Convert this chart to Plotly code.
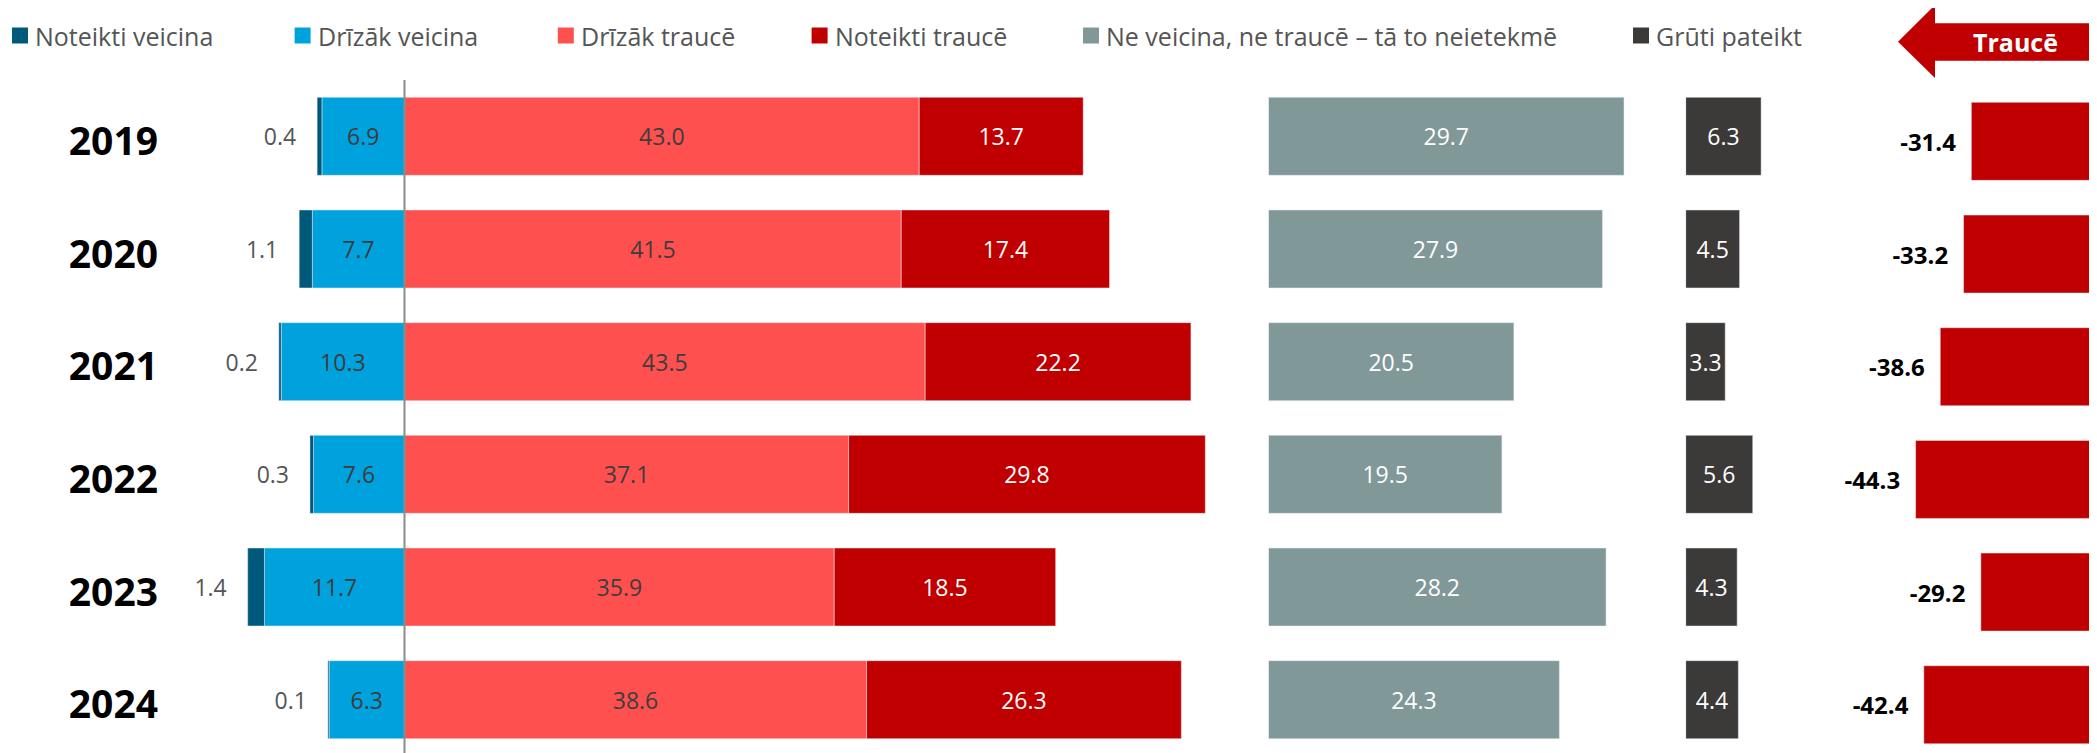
import plotly.graph_objects as go

# ---------------- data ----------------
years = ["2019", "2020", "2021", "2022", "2023", "2024"]
noteikti_veicina = [0.4, 1.1, 0.2, 0.3, 1.4, 0.1]
drizak_veicina = [6.9, 7.7, 10.3, 7.6, 11.7, 6.3]
drizak_trauce = [43.0, 41.5, 43.5, 37.1, 35.9, 38.6]
noteikti_trauce = [13.7, 17.4, 22.2, 29.8, 18.5, 26.3]
neitrali = [29.7, 27.9, 20.5, 19.5, 28.2, 24.3]
gruti_pateikt = [6.3, 4.5, 3.3, 5.6, 4.3, 4.4]
bilance = [-31.4, -33.2, -38.6, -44.3, -29.2, -42.4]

series_names = ["Noteikti veicina", "Drīzāk veicina", "Drīzāk traucē", "Noteikti traucē",
                "Ne veicina, ne traucē – tā to neietekmē", "Grūti pateikt"]
colors = ["#00587a", "#00a2de", "#ff5050", "#c00000", "#819899", "#3b3a38"]
arrow_label = "Traucē"

# ---------------- geometry (window pixels) ----------------
W, H = 2097, 753
OFF = 8                      # default page body margin
FW, FH = W - OFF, H - OFF    # figure size
FONT = "Open Sans"
SCALE = 11.97                # px per percentage point (main panels)
ZERO_PX = 404.5
ROW0, PITCH = 136.3, 112.68


def px(x):
    return (x - OFF) / FW


def py(y):
    return 1 - (y - OFF) / FH


yr = [(H - ROW0) / PITCH, (OFF - ROW0) / PITCH]
BAR_W = 78 / PITCH
Y2_SHIFT = 0.045

main_dom = (OFF, 1250)
grey_dom = (1268.5, 1640)
dark_dom = (1685.7, 1800)
net_dom = (1800, W)
NET_ZERO, NET_SCALE = 2107, 4.32

NBSP = "\u00a0"
neg = lambda v: [-a for a in v]
fmt = lambda v: [f"{a:.1f}" for a in v]

fig = go.Figure()

label_font = dict(family=FONT, size=23)
inside = dict(textposition="inside", insidetextanchor="middle", textangle=0,
              constraintext="none", orientation="h", width=BAR_W, showlegend=False)

fig.add_trace(go.Bar(y=years, x=neg(drizak_veicina), name=series_names[1],
                     marker_color=colors[1], text=fmt(drizak_veicina),
                     insidetextfont=dict(label_font, color="#3d3d3d"),
                     xaxis="x", yaxis="y", **inside))
fig.add_trace(go.Bar(y=years, x=neg(noteikti_veicina), name=series_names[0], orientation="h",
                     marker_color=colors[0], width=BAR_W, showlegend=False,
                     text=[f"{a:.1f}{NBSP * 3}" for a in noteikti_veicina],
                     textposition="outside", textangle=0, constraintext="none", cliponaxis=False,
                     outsidetextfont=dict(label_font, color="#555555"),
                     xaxis="x", yaxis="y"))
fig.add_trace(go.Bar(y=years, x=drizak_trauce, name=series_names[2],
                     marker_color=colors[2], text=fmt(drizak_trauce),
                     insidetextfont=dict(label_font, color="#3d3d3d"),
                     xaxis="x", yaxis="y", **inside))
fig.add_trace(go.Bar(y=years, x=noteikti_trauce, name=series_names[3],
                     marker_color=colors[3], text=fmt(noteikti_trauce),
                     insidetextfont=dict(label_font, color="white"),
                     xaxis="x", yaxis="y", **inside))
fig.add_trace(go.Bar(y=years, x=neitrali, name=series_names[4],
                     marker_color=colors[4], text=fmt(neitrali),
                     insidetextfont=dict(label_font, color="white"),
                     xaxis="x3", yaxis="y", **inside))
fig.add_trace(go.Bar(y=years, x=gruti_pateikt, name=series_names[5],
                     marker_color=colors[5], text=fmt(gruti_pateikt),
                     insidetextfont=dict(label_font, color="white"),
                     xaxis="x4", yaxis="y", **inside))
fig.add_trace(go.Bar(y=years, x=bilance, name="Bilance", orientation="h",
                     marker_color="#c00000", width=BAR_W, showlegend=False,
                     text=[f"{v:.1f}{NBSP * 2}" for v in bilance],
                     textposition="outside", textangle=0, constraintext="none", cliponaxis=False,
                     outsidetextfont=dict(family=FONT, size=24, color="black", weight="bold"),
                     xaxis="x2", yaxis="y2"))

annotations = []
shapes = []

# manual legend
legend_x = [12, 294.6, 557.8, 811.6, 1083, 1633]
for name, col, lx in zip(series_names, colors, legend_x):
    shapes.append(dict(type="rect", xref="paper", yref="paper",
                       x0=px(lx), x1=px(lx + 16), y0=py(43.5), y1=py(27.5),
                       fillcolor=col, line=dict(width=0)))
    annotations.append(dict(x=px(lx + 21), xref="paper", y=py(35.5), yref="paper",
                            xanchor="left", yanchor="middle", text=name, showarrow=False,
                            font=dict(family=FONT, size=25, color="#555555")))

# arrow "Traucē"
ax = [(1898, 41.7), (1935, 5), (1935, 23.3), (W + 2, 23.3), (W + 2, 60.7), (1935, 60.7), (1935, 78)]
path = "M " + " L ".join(f"{px(a)},{py(b)}" for a, b in ax) + " Z"
shapes.append(dict(type="path", xref="paper", yref="paper", path=path,
                   fillcolor="#c00000", line=dict(width=0)))
annotations.append(dict(x=px(2015), xref="paper", y=py(42), yref="paper",
                        xanchor="center", yanchor="middle", text=f"<b>{arrow_label}</b>",
                        showarrow=False, font=dict(family=FONT, size=25, color="white")))

# zero line
shapes.append(dict(type="line", xref="x", yref="paper", x0=0, x1=0, y0=0, y1=py(80),
                   line=dict(color="#8c8c8c", width=2), layer="above"))

hidden = dict(visible=False, showgrid=False, zeroline=False, fixedrange=True)

fig.update_layout(
    width=FW, height=FH, margin=dict(l=0, r=0, t=0, b=0),
    paper_bgcolor="white", plot_bgcolor="rgba(0,0,0,0)",
    barmode="relative", bargap=0.3,
    font=dict(family=FONT),
    xaxis=dict(hidden, domain=[px(main_dom[0]), px(main_dom[1])], anchor="y",
               range=[(main_dom[0] - ZERO_PX) / SCALE, (main_dom[1] - ZERO_PX) / SCALE]),
    xaxis3=dict(hidden, domain=[px(grey_dom[0]), px(grey_dom[1])], anchor="y",
                range=[0, (grey_dom[1] - grey_dom[0]) / SCALE]),
    xaxis4=dict(hidden, domain=[px(dark_dom[0]), px(dark_dom[1])], anchor="y",
                range=[0, (dark_dom[1] - dark_dom[0]) / SCALE]),
    xaxis2=dict(hidden, domain=[px(net_dom[0]), 1], anchor="y2",
                range=[(net_dom[0] - NET_ZERO) / NET_SCALE, (net_dom[1] - NET_ZERO) / NET_SCALE]),
    yaxis=dict(hidden, type="category", categoryorder="array", categoryarray=years,
               domain=[0, 1], range=yr),
    # year labels: tick labels of the (slightly lower) overlay axis
    yaxis2=dict(visible=True, showgrid=False, zeroline=False, showline=False, ticks="",
                fixedrange=True, showticklabels=True,
                tickfont=dict(family=FONT, size=39, color="black", weight="bold"),
                type="category", categoryorder="array", categoryarray=years,
                domain=[0, 1], overlaying="y", anchor="free", position=px(158), side="left",
                range=[yr[0] - Y2_SHIFT, yr[1] - Y2_SHIFT]),
    shapes=shapes, annotations=annotations,
)

fig.write_html("out.html")
